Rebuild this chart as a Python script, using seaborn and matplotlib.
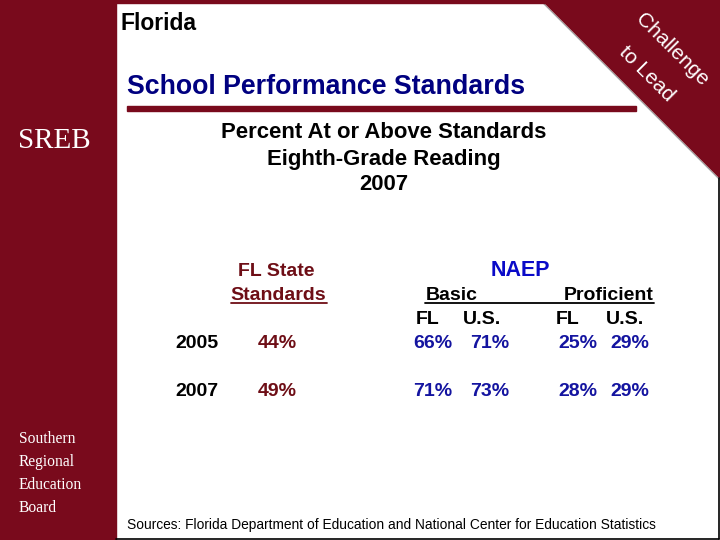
import matplotlib
matplotlib.use("Agg")
import matplotlib.pyplot as plt
from matplotlib.patches import Rectangle, Polygon
import seaborn as sns

sns.set_style("white")
plt.rcParams['font.family'] = ['Liberation Sans', 'DejaVu Sans']

# ---- data ----
years = ["2005", "2007"]
fl_state = [44, 49]
naep_basic_fl = [66, 71]
naep_basic_us = [71, 73]
naep_prof_fl = [25, 28]
naep_prof_us = [29, 29]
title_lines = ["Percent At or Above Standards", "Eighth-Grade Reading", "2007"]
sidebar_words = ["Southern", "Regional", "Education", "Board"]

RED = "#790A1C"
FLRED = "#6E0E16"
NAVY = "#000080"
BLUE = "#1414A0"
NAEPBLUE = "#0A0AC8"
DY = 2

fig = plt.figure(figsize=(7.2, 5.4), dpi=100)
ax = fig.add_axes([0, 0, 1, 1])
ax.set_xlim(0, 720)
ax.set_ylim(540, 0)
ax.axis('off')

# frame
ax.add_patch(Rectangle((0, 0), 116, 540, color=RED, zorder=1))
ax.add_patch(Rectangle((0, 0), 720, 3, color=RED, zorder=1))
ax.add_patch(Polygon([(542, 0), (720, 0), (720, 178)], closed=True, color=RED, zorder=1))
ax.plot([541, 720], [1, 180], color="#9a9a9a", lw=0.8, zorder=0.9)
ax.add_patch(Rectangle((127, 106), 509, 5, color=RED, zorder=1))
ax.plot([116, 719], [538.5, 538.5], color="black", lw=1.2, zorder=2)
ax.plot([718.5, 718.5], [178, 539], color="black", lw=1.2, zorder=2)

# header texts
ax.text(120, 22 + DY, "Florida", fontsize=16.5, fontweight="bold", color="black",
        va="center", ha="left")
ax.text(127, 85 + DY, "School Performance Standards", fontsize=19.3, fontweight="bold",
        color=NAVY, va="center", ha="left")
ax.text(672, 50, "Challenge", fontsize=15, color="white", rotation=-45,
        rotation_mode="anchor", ha="center", va="center")
ax.text(647, 74, "to Lead", fontsize=15, color="white", rotation=-45,
        rotation_mode="anchor", ha="center", va="center")

# sidebar
ax.text(18, 139 + DY, "SREB", fontsize=21, color="white", family=["Liberation Serif"],
        va="center", ha="left")
for i, w in enumerate(sidebar_words):
    ax.text(19, 437 + 23 * i + DY, w, fontsize=11.2, color="white",
            family=["Liberation Serif"], va="center", ha="left")

# chart titles
for i, t in enumerate(title_lines):
    ax.text(384, 131 + 26 * i + DY, t, fontsize=15.9, fontweight="bold", color="black",
            ha="center", va="center")

# column headers
ax.text(276, 269 + DY, "FL State", fontsize=14, fontweight="bold", color=FLRED, ha="center", va="center")
ax.text(278, 293 + DY, "Standards", fontsize=14, fontweight="bold", color=FLRED, ha="center", va="center")
ax.plot([231, 327], [302.5, 302.5], color=FLRED, lw=1.3)
ax.text(520, 268 + DY, "NAEP", fontsize=15.5, fontweight="bold", color=NAEPBLUE, ha="center", va="center")
ax.text(426, 293 + DY, "Basic", fontsize=14, fontweight="bold", color="black", ha="left", va="center")
ax.text(654, 293 + DY, "Proficient", fontsize=14, fontweight="bold", color="black", ha="right", va="center")
ax.plot([425, 654], [302.5, 302.5], color="black", lw=1.3)
for x, s in [(428, "FL"), (482, "U.S."), (568, "FL"), (625, "U.S.")]:
    ax.text(x, 317 + DY, s, fontsize=14, fontweight="bold", color="black", ha="center", va="center")

# rows
row_y = [342, 389]
for i, yr in enumerate(years):
    y = row_y[i] + DY
    ax.text(197, y, yr, fontsize=14, fontweight="bold", color="black", ha="center", va="center")
    ax.text(277, y, f"{fl_state[i]}%", fontsize=14, fontweight="bold", color=FLRED, ha="center", va="center")
    ax.text(433, y, f"{naep_basic_fl[i]}%", fontsize=14, fontweight="bold", color=BLUE, ha="center", va="center")
    ax.text(490, y, f"{naep_basic_us[i]}%", fontsize=14, fontweight="bold", color=BLUE, ha="center", va="center")
    ax.text(578, y, f"{naep_prof_fl[i]}%", fontsize=14, fontweight="bold", color=BLUE, ha="center", va="center")
    ax.text(630, y, f"{naep_prof_us[i]}%", fontsize=14, fontweight="bold", color=BLUE, ha="center", va="center")

ax.text(127, 523 + DY, "Sources: Florida Department of Education and National Center for Education Statistics",
        fontsize=9.95, color="black", ha="left", va="center")

fig.savefig("out.png", dpi=100)
